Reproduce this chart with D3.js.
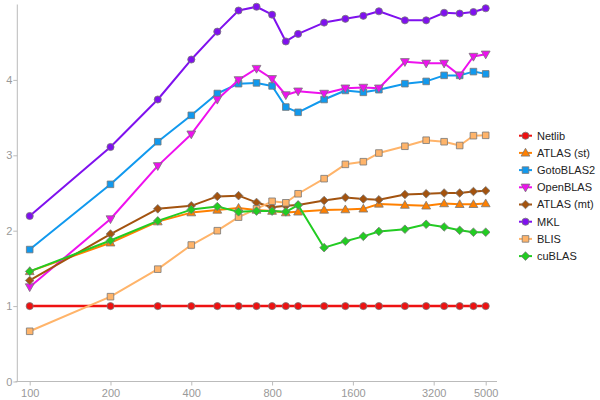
<!DOCTYPE html>
<html><head><meta charset="utf-8">
<script src="https://cdn.jsdelivr.net/npm/d3@7/dist/d3.min.js"></script>
<style>
body{margin:0;background:#fff;}
svg{display:block;font-family:"Liberation Sans",Arial,sans-serif;}
</style></head>
<body><svg id="c" width="600" height="400"></svg>
<script>
const sizes = [100,200,300,400,500,600,700,800,900,1000,1250,1500,1750,2000,2500,3000,3500,4000,4500,5000];
const xTicks = [100,200,400,800,1600,3200,5000];
const yTicks = [0,1,2,3,4];
const seriesNames = ["Netlib","ATLAS (st)","GotoBLAS2","OpenBLAS","ATLAS (mt)","MKL","BLIS","cuBLAS"];
const netlib   = [1,1,1,1,1,1,1,1,1,1,1,1,1,1,1,1,1,1,1,1];
const atlasSt  = [1.46,1.84,2.12,2.24,2.275,2.30,2.275,2.26,2.24,2.25,2.275,2.28,2.29,2.355,2.34,2.33,2.36,2.35,2.35,2.36];
const gotoBlas = [1.75,2.615,3.18,3.53,3.82,3.95,3.96,3.92,3.64,3.57,3.74,3.86,3.835,3.87,3.95,3.98,4.06,4.06,4.11,4.08];
const openBlas = [1.253,2.155,2.86,3.28,3.74,4.0,4.15,4.015,3.80,3.85,3.82,3.89,3.90,3.89,4.24,4.22,4.22,4.06,4.31,4.34];
const atlasMt  = [1.34,1.956,2.29,2.33,2.455,2.465,2.375,2.31,2.33,2.34,2.40,2.44,2.42,2.41,2.48,2.49,2.50,2.50,2.52,2.53];
const mkl      = [2.195,3.11,3.74,4.27,4.64,4.92,4.97,4.865,4.51,4.61,4.76,4.81,4.85,4.91,4.79,4.79,4.89,4.88,4.90,4.95];
const blis     = [0.666,1.125,1.49,1.81,2.0,2.18,2.29,2.39,2.37,2.49,2.69,2.88,2.915,3.03,3.12,3.20,3.18,3.13,3.26,3.265];
const cublas   = [1.46,1.87,2.13,2.28,2.32,2.25,2.26,2.26,2.25,2.34,1.775,1.86,1.925,1.99,2.02,2.085,2.05,2.005,1.98,1.98];

const seriesValues = [netlib,atlasSt,gotoBlas,openBlas,atlasMt,mkl,blis,cublas];
const colors  = ["#ee1111","#ff8000","#1199ee","#ee11ee","#a3530f","#7f11ee","#ffb46a","#22cc22"];
const shapes  = ["circle","triUp","square","triDown","diamond","circle","square","diamond"];
const widths  = [2.5,2,2,2,2,2,2,2];

const svg = d3.select("#c");
const x = d3.scaleLog().domain([100,5000]).range([29.7,485.7]);
const y = d3.scaleLinear().domain([0,5]).range([381.5,4.5]);

// axes
const gx = svg.append("g").attr("transform","translate(0,381.5)")
  .call(d3.axisBottom(x).tickValues(xTicks).tickFormat(d=>String(d)).tickSize(4).tickSizeOuter(0));
const gy = svg.append("g").attr("transform","translate(17.3,0)")
  .call(d3.axisLeft(y).tickValues(yTicks).tickFormat(d=>String(d)).tickSize(4).tickSizeOuter(0));
[gx,gy].forEach(g=>{
  g.select(".domain").remove();
  g.selectAll(".tick line").attr("stroke","#bbb");
  g.selectAll(".tick text").attr("fill","#999").style("font-size","11px").style("font-family","'Liberation Sans',Arial,sans-serif");
});
gx.selectAll(".tick text").attr("dy","0.95em").attr("y",5);
gy.selectAll(".tick text").attr("x",-5);
svg.append("line").attr("x1",15.5).attr("x2",497).attr("y1",381.5).attr("y2",381.5).attr("stroke","#bbb");
svg.append("line").attr("x1",17.3).attr("x2",17.3).attr("y1",4.5).attr("y2",381.5).attr("stroke","#bbb");

function symPath(shape){
  if(shape==="circle") return d3.symbol(d3.symbolCircle, 40)();
  if(shape==="square") return "M-3.3,-3.3H3.3V3.3H-3.3Z";
  if(shape==="diamond") return "M0,-4.3L4.3,0L0,4.3L-4.3,0Z";
  if(shape==="triUp") return "M0,-4.6L4.4,3.2L-4.4,3.2Z";
  if(shape==="triDown") return "M0,4.6L4.4,-3.2L-4.4,-3.2Z";
}

const line = d3.line().x(d=>x(d[0])).y(d=>y(d[1]));
const plot = svg.append("g");
seriesValues.forEach((vals,i)=>{
  const pts = sizes.map((s,j)=>[s,vals[j]]);
  const g = plot.append("g");
  g.append("path").datum(pts).attr("d",line).attr("fill","none")
    .attr("stroke",colors[i]).attr("stroke-width",widths[i]).attr("stroke-linejoin","round");
  g.selectAll("path.m").data(pts).enter().append("path").attr("class","m")
    .attr("d",symPath(shapes[i]))
    .attr("transform",d=>`translate(${x(d[0])},${y(d[1])})`)
    .attr("fill",colors[i]).attr("stroke","#777").attr("stroke-width",0.8);
});

// legend
const lg = svg.append("g");
seriesNames.forEach((n,i)=>{
  const ly = 135.7 + i*17.2;
  lg.append("line").attr("x1",519).attr("x2",532).attr("y1",ly).attr("y2",ly)
    .attr("stroke",colors[i]).attr("stroke-width",2);
  lg.append("path").attr("d",symPath(shapes[i])).attr("transform",`translate(525.5,${ly})`)
    .attr("fill",colors[i]).attr("stroke","#777").attr("stroke-width",0.8);
  lg.append("text").attr("x",537).attr("y",ly).attr("dy","0.35em").text(n)
    .attr("fill","#222").style("font-size","11px");
});
</script></body></html>
